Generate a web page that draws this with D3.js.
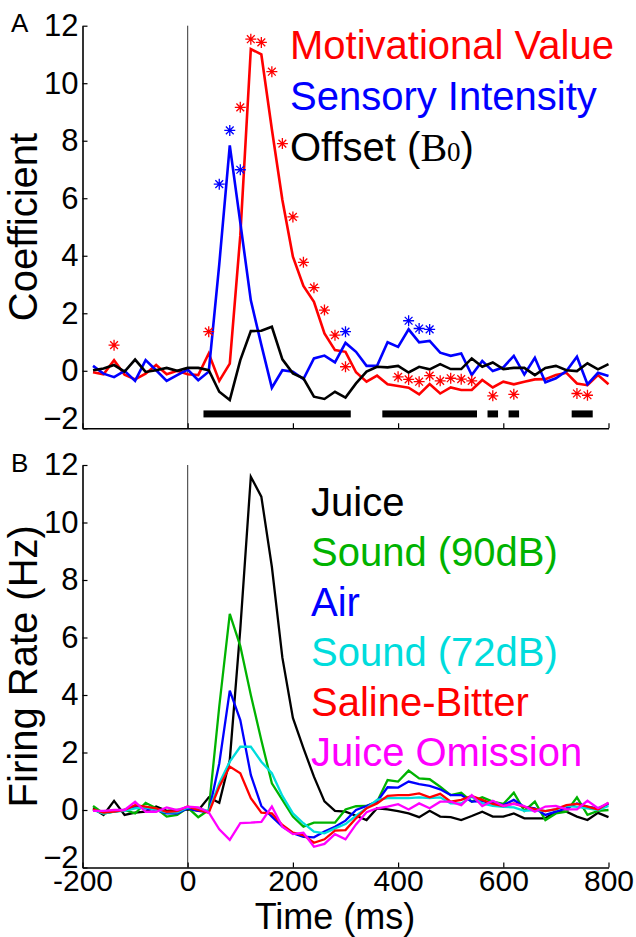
<!DOCTYPE html>
<html>
<head>
<meta charset="utf-8">
<script src="https://cdn.jsdelivr.net/npm/d3@7"></script>
<style>
  body { margin: 0; background: #fff; }
  text { font-family: "Liberation Sans", Arial, sans-serif; }
</style>
</head>
<body>
<div id="chart"></div>
<script>
// time bins (ms)
const times = [-180, -160, -140, -120, -100, -80, -60, -40, -20, 0,
  20, 40, 60, 80, 100, 120, 140, 160, 180, 200,
  220, 240, 260, 280, 300, 320, 340, 360, 380, 400,
  420, 440, 460, 480, 500, 520, 540, 560, 580, 600,
  620, 640, 660, 680, 700, 720, 740, 760, 780, 800];

// Panel A: regression coefficients
const motivational = [-0.05, -0.12, 0.37, -0.14, -0.3, -0.1, 0.2, -0.12, 0.0, -0.12,
  -0.15, 0.6, -0.35, 0.25, 4.7, 11.19, 11.0, 8.4, 5.94, 3.97,
  2.95, 2.4, 1.3, 0.72, 0.66, -0.05, -0.38, -0.17, -0.47, -0.53,
  -0.59, -0.82, -0.46, -0.79, -0.58, -0.67, -0.67, -0.32, -0.58, -0.38,
  -0.47, -0.38, -0.3, -0.29, -0.15, -0.07, -0.44, -0.5, -0.15, -0.47];
const sensory = [0.17, -0.1, -0.22, 0.0, -0.35, 0.37, 0.02, -0.35, -0.15, 0.04,
  -0.33, -0.03, 3.7, 7.84, 5.15, 2.45, 0.9, -0.59, 0.02, -0.03,
  -0.29, 0.43, 0.53, 0.29, 0.97, 0.66, 0.17, 0.17, 0.99, 0.83,
  1.44, 0.99, 1.04, 0.63, 0.52, 0.6, -0.15, 0.34, -0.01, 0.12,
  0.52, -0.13, 0.45, -0.4, -0.26, -0.01, 0.49, -0.47, -0.07, -0.18];
const offset = [0.02, 0.08, 0.2, -0.03, 0.39, -0.04, 0.02, 0.1, 0.0, 0.1,
  0.1, 0.02, -0.73, -1.02, 0.37, 1.38, 1.39, 1.53, 0.4, -0.09,
  -0.26, -0.9, -0.98, -0.73, -0.93, -0.44, -0.03, 0.14, 0.12, 0.17,
  -0.06, 0.14, 0.05, 0.23, 0.06, 0.06, 0.43, 0.14, 0.29, 0.06,
  0.1, 0.1, -0.15, 0.1, 0.17, 0.02, -0.01, 0.26, 0.05, 0.23];

// significance stars (time, marker height)
const redStarT = [-140, 40, 100, 120, 140, 160, 180, 200, 220, 240, 260, 280, 300,
  400, 420, 440, 460, 480, 500, 520, 540, 580, 620, 740, 760];
const redStarV = [0.89, 1.36, 9.16, 11.53, 11.42, 10.4, 7.9, 5.35, 3.77, 2.89, 2.11, 1.24, 0.14,
  -0.21, -0.3, -0.38, -0.17, -0.35, -0.26, -0.29, -0.35, -0.87, -0.82, -0.79, -0.85];
const blueStarT = [60, 80, 100, 300, 420, 440, 460];
const blueStarV = [6.49, 8.36, 6.99, 1.36, 1.74, 1.47, 1.44];

// offset significance bars (ms)
const barStart = [30, 370, 570, 610, 730];
const barEnd = [310, 550, 590, 630, 770];
const barLevel = -1.5;

// Panel B: firing rates
const juice = [0.06, -0.17, 0.32, -0.17, -0.09, -0.06, 0.12, -0.03, 0.0, 0.02,
  -0.02, 0.44, 0.25, 1.74, 6.3, 11.59, 10.9, 8.46, 5.3, 3.2,
  2.15, 1.16, 0.3, -0.03, -0.06, -0.2, -0.35, 0.06, 0.02, -0.04,
  -0.12, -0.25, -0.03, -0.23, -0.25, -0.35, -0.21, -0.06, -0.23, -0.23,
  -0.12, -0.29, -0.29, -0.29, -0.06, -0.06, -0.23, -0.35, -0.1, -0.25];
const sound90 = [0.14, -0.12, -0.06, 0.0, -0.12, 0.25, 0.06, -0.23, -0.17, 0.08,
  -0.25, 0.0, 3.6, 6.82, 5.7, 4.0, 2.43, 0.93, 0.35, -0.23,
  -0.58, -0.44, -0.44, -0.44, 0.02, 0.13, 0.14, 0.29, 1.04, 0.99,
  1.37, 1.1, 1.07, 0.81, 0.52, 0.6, 0.29, 0.44, 0.29, 0.21,
  0.6, -0.03, 0.29, -0.35, -0.12, -0.06, 0.44, -0.17, -0.03, 0.0];
const air = [0.0, -0.09, -0.06, 0.0, 0.12, 0.06, 0.0, -0.12, -0.12, 0.06,
  -0.03, -0.08, 1.62, 4.15, 3.13, 1.22, 0.14, -0.23, -0.58, -0.81,
  -0.93, -0.95, -0.75, -0.58, -0.37, 0.0, 0.14, 0.29, 0.79, 0.78,
  0.99, 0.9, 0.84, 0.72, 0.52, 0.52, 0.29, 0.31, 0.23, 0.17,
  0.35, 0.11, 0.06, -0.17, -0.06, 0.06, 0.23, 0.12, 0.06, 0.21];
const sound72 = [0.0, -0.12, -0.06, -0.03, 0.06, 0.09, 0.0, -0.08, -0.08, 0.09,
  0.06, -0.04, 0.93, 1.68, 2.2, 2.2, 1.68, 1.28, 0.49, -0.12,
  -0.46, -0.75, -0.81, -0.64, -0.49, -0.2, 0.06, 0.35, 0.41, 0.41,
  0.41, 0.44, 0.41, 0.44, 0.23, 0.23, 0.46, 0.23, 0.14, 0.11,
  0.09, -0.03, 0.0, -0.04, 0.02, 0.14, 0.11, 0.06, 0.0, 0.14];
const salineBitter = [0.02, -0.09, -0.06, 0.0, 0.17, 0.12, 0.06, -0.06, -0.04, 0.12,
  0.0, -0.09, 0.81, 1.51, 1.28, 0.41, -0.09, -0.12, -0.52, -0.79,
  -0.87, -1.14, -1.02, -0.72, -0.7, -0.29, 0.06, 0.23, 0.49, 0.52,
  0.52, 0.58, 0.44, 0.56, 0.29, 0.35, 0.49, 0.35, 0.21, 0.14,
  0.23, 0.11, 0.03, -0.04, 0.03, 0.17, 0.21, 0.12, 0.02, 0.25];
const juiceOmission = [-0.03, -0.03, 0.0, 0.0, 0.29, -0.06, -0.06, 0.09, 0.0, 0.12,
  0.09, -0.08, -0.67, -1.04, -0.46, -0.44, -0.41, 0.12, -0.58, -0.84,
  -0.79, -1.28, -1.18, -0.84, -1.02, -0.5, -0.08, 0.06, 0.12, 0.2,
  0.02, 0.23, 0.06, 0.29, 0.29, 0.17, 0.52, 0.14, 0.32, 0.14,
  0.21, 0.14, -0.06, 0.12, 0.14, 0.02, 0.02, 0.32, 0.06, 0.25];

const xTicks = [-200, 0, 200, 400, 600, 800];
const yTicks = [-2, 0, 2, 4, 6, 8, 10, 12];

const W = 636, H = 937;

const svg = d3.select("#chart")
  .append("svg")
  .attr("width", W)
  .attr("height", H)
  .style("background", "#fff");

const x = d3.scaleLinear().domain([-200, 800]).range([82.5, 608.5]);
const yA = d3.scaleLinear().domain([-2, 12]).range([428.3, 25.7]);
const yB = d3.scaleLinear().domain([-2, 12]).range([867.5, 465]);

// MATLAB-style asterisk marker
const asterisk = {
  draw(ctx, size) {
    const r = Math.sqrt(size) / 2;
    const d = r * Math.SQRT1_2;
    ctx.moveTo(-r, 0); ctx.lineTo(r, 0);
    ctx.moveTo(0, -r); ctx.lineTo(0, r);
    ctx.moveTo(-d, -d); ctx.lineTo(d, d);
    ctx.moveTo(-d, d); ctx.lineTo(d, -d);
  }
};

function drawAxes(y, showXLabels) {
  const g = svg.append("g");

  // zero line
  g.append("line")
    .attr("x1", x(0)).attr("x2", x(0))
    .attr("y1", y(12)).attr("y2", y(-2))
    .attr("stroke", "#333")
    .attr("stroke-width", 1);

  const ax = g.append("g")
    .attr("transform", `translate(0,${y(-2)})`)
    .call(d3.axisBottom(x)
      .tickValues(xTicks)
      .tickSizeInner(-5)
      .tickSizeOuter(0)
      .tickPadding(2)
      .tickFormat(showXLabels ? (d) => String(d) : () => ""));

  const ay = g.append("g")
    .attr("transform", `translate(${x(-200)},0)`)
    .call(d3.axisLeft(y)
      .tickValues(yTicks)
      .tickSizeInner(-5)
      .tickSizeOuter(0)
      .tickPadding(4));

  [ax, ay].forEach((a) => {
    a.select(".domain").attr("stroke", "#000").attr("stroke-width", 1.6);
    a.selectAll(".tick line").attr("stroke", "#000").attr("stroke-width", 1.2);
    a.selectAll(".tick text")
      .attr("font-family", "'Liberation Sans', Arial, sans-serif")
      .attr("fill", "#000");
  });
  ax.selectAll(".tick text").attr("font-size", 30);
  ay.selectAll(".tick text").attr("font-size", 31);
  // lowest y label sits a little above its tick, as in the source figure
  ay.selectAll(".tick text").filter((d) => d === -2).attr("dy", "0em");
}

function drawLine(y, values, color, width) {
  const line = d3.line()
    .x((d, i) => x(times[i]))
    .y((d) => y(d));
  svg.append("path")
    .datum(values)
    .attr("d", line)
    .attr("fill", "none")
    .attr("stroke", color)
    .attr("stroke-width", width)
    .attr("stroke-linejoin", "miter");
}

function drawStars(y, ts, vs, color) {
  svg.append("g")
    .selectAll("path")
    .data(ts)
    .enter()
    .append("path")
    .attr("transform", (d, i) => `translate(${x(d)},${y(vs[i])})`)
    .attr("d", d3.symbol().type(asterisk).size(121))
    .attr("fill", "none")
    .attr("stroke", color)
    .attr("stroke-width", 1.3);
}

function legend(items, x0, y0, step) {
  svg.append("g")
    .selectAll("text")
    .data(items)
    .enter()
    .append("text")
    .attr("x", x0)
    .attr("y", (d, i) => y0 + i * step)
    .attr("font-size", 40)
    .attr("fill", (d) => d.color)
    .text((d) => d.label);
}

// ---------- Panel A ----------
drawAxes(yA, false);

svg.append("g")
  .selectAll("rect")
  .data(barStart)
  .enter()
  .append("rect")
  .attr("x", (d) => x(d))
  .attr("width", (d, i) => x(barEnd[i]) - x(d))
  .attr("y", yA(barLevel) - 3.5)
  .attr("height", 7)
  .attr("fill", "#000");

drawLine(yA, motivational, "#ff0000", 2.6);
drawLine(yA, sensory, "#0000ff", 2.6);
drawLine(yA, offset, "#000000", 2.6);
drawStars(yA, redStarT, redStarV, "#ff0000");
drawStars(yA, blueStarT, blueStarV, "#0000ff");

legend([
  { label: "Motivational Value", color: "#ff0000" },
  { label: "Sensory Intensity", color: "#0000ff" }
], 290, 59, 51);

const off = svg.append("text")
  .attr("x", 290)
  .attr("y", 161)
  .attr("font-size", 40)
  .attr("fill", "#000");
off.append("tspan").text("Offset (");
off.append("tspan").attr("font-family", "'Liberation Serif', 'Times New Roman', serif").text("B");
off.append("tspan").attr("font-family", "'Liberation Serif', 'Times New Roman', serif").attr("font-size", 27).text("0");
off.append("tspan").text(")");

// ---------- Panel B ----------
drawAxes(yB, true);

drawLine(yB, juice, "#000000", 2.3);
drawLine(yB, sound90, "#00b300", 2.3);
drawLine(yB, air, "#0000ff", 2.3);
drawLine(yB, sound72, "#00dcdc", 2.3);
drawLine(yB, salineBitter, "#ff0000", 2.3);
drawLine(yB, juiceOmission, "#ff00ff", 2.3);

legend([
  { label: "Juice", color: "#000000" },
  { label: "Sound (90dB)", color: "#00b300" },
  { label: "Air", color: "#0000ff" },
  { label: "Sound (72dB)", color: "#00dcdc" },
  { label: "Saline-Bitter", color: "#ff0000" },
  { label: "Juice Omission", color: "#ff00ff" }
], 311, 516, 50);

// ---------- labels ----------
svg.append("text")
  .attr("transform", `translate(37,${(yA(12) + yA(-2)) / 2}) rotate(-90)`)
  .attr("text-anchor", "middle")
  .attr("font-size", 40)
  .text("Coefficient");

svg.append("text")
  .attr("transform", `translate(37,${(yB(12) + yB(-2)) / 2}) rotate(-90)`)
  .attr("text-anchor", "middle")
  .attr("font-size", 40)
  .text("Firing Rate (Hz)");

svg.append("text")
  .attr("x", 335)
  .attr("y", 929)
  .attr("text-anchor", "middle")
  .attr("font-size", 36)
  .text("Time (ms)");

svg.append("text").attr("x", 11).attr("y", 32).attr("font-size", 26).text("A");
svg.append("text").attr("x", 11).attr("y", 472).attr("font-size", 26).text("B");
</script>
</body>
</html>
